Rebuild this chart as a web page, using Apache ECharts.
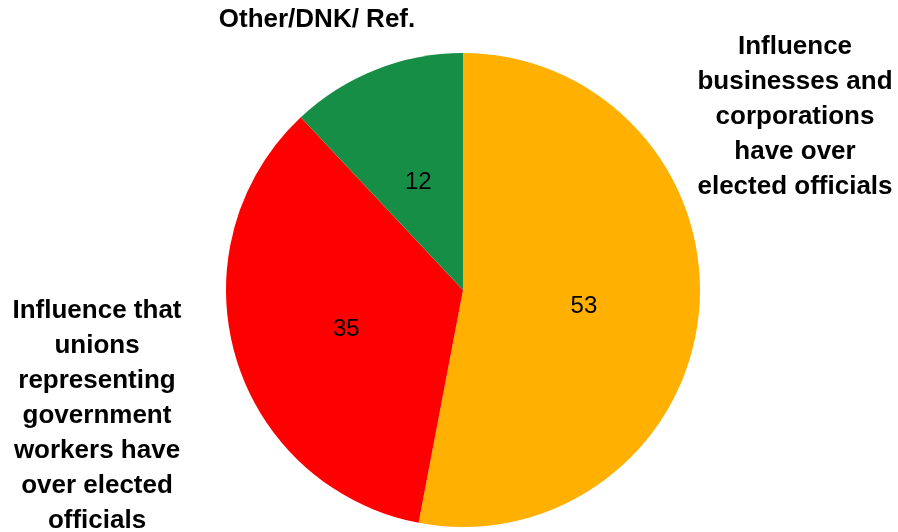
<!DOCTYPE html>
<html lang="en">
<head>
  <meta charset="UTF-8">
  <title>Influence over elected officials</title>
  <style>
    html, body { margin: 0; padding: 0; background: #fff; }
  </style>
</head>
<body>
  <div id="main" style="width: 898px;height:532px;"></div>

  <script src="https://cdn.jsdelivr.net/npm/echarts@6/dist/echarts.min.js"></script>
  <script>
    const categories = [
      'Influence\nbusinesses and\ncorporations\nhave over\nelected officials',
      'Influence that\nunions\nrepresenting\ngovernment\nworkers have\nover elected\nofficials',
      'Other/DNK/ Ref.'
    ];
    const values = [53, 35, 12];
    const colors = ['#FFB000', '#FF0000', '#178E46'];

    // where the outer name labels sit (centre of each text block)
    const namePos = [[795, 117], [97, 416], [317, 20]];

    const myChart = echarts.init(document.getElementById('main'));

    const options = {
      animation: false,
      graphic: categories.map((name, i) => ({
        type: 'text',
        x: namePos[i][0],
        y: namePos[i][1],
        style: {
          text: name,
          fill: '#000',
          font: 'bold 26px "Liberation Sans", Arial, sans-serif',
          lineHeight: 35,
          align: 'center',
          verticalAlign: 'middle'
        }
      })),
      series: [
        {
          type: 'pie',
          center: [463, 290],
          radius: 237,
          startAngle: 90,
          clockwise: true,
          silent: true,
          itemStyle: { borderWidth: 0 },
          label: {
            show: true,
            position: 'inside',
            formatter: '{c}',
            color: '#000',
            fontSize: 24,
            fontFamily: '"Liberation Sans", Arial, sans-serif'
          },
          labelLayout: { dy: 5 },
          labelLine: { show: false },
          data: values.map((v, i) => ({
            value: v,
            name: categories[i],
            itemStyle: { color: colors[i] }
          }))
        }
      ]
    };

    myChart.setOption(options);
  </script>
</body>
</html>
